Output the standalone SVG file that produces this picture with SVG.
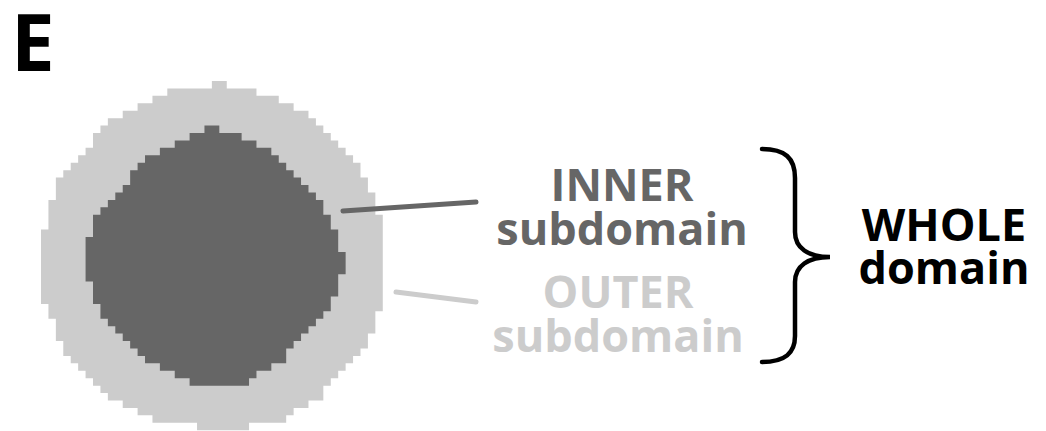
<svg xmlns="http://www.w3.org/2000/svg" width="1046" height="431" viewBox="0 0 1046 431">
  <style>
    .lbl { font-family: "Open Sans", "Liberation Sans", sans-serif; font-weight: 700; font-size: 45px; text-anchor: middle; }
    .dark { fill: #666666; }
    .light { fill: #cccccc; }
    .black { fill: #000000; }
    .conn { fill: none; stroke-width: 5; stroke-linecap: round; }
  </style>
  <rect width="1046" height="431" fill="#ffffff"/>
  <g id="panel-label">
    <text x="11" y="71" font-family="'Open Sans', 'Liberation Sans', sans-serif" font-weight="700" font-size="78" fill="#000">E</text>
  </g>
  <g id="domain" transform="translate(41,81) scale(7.43)">
    <g id="outer-subdomain">
      <path class="light" d="M23,0 H25 V1 H29 V2 H32 V3 H34 V4 H36 V5 H37 V6 H38 V7 H39 V8 H40 V9 H41 V10 H42 V11 H43 V13 H44 V15 H45 V18 H46 V31 H45 V34 H44 V36 H43 V37 H42 V38 H41 V39 H40 V40 H39 V41 H38 V43 H36 V44 H34 V45 H33 V46 H28 V47 H21 V46 H15 V45 H13 V44 H11 V43 H9 V42 H8 V41 H7 V40 H6 V39 H5 V38 H4 V37 H3 V35 H2 V32 H1 V30 H0 V20 H1 V16 H2 V13 H3 V12 H4 V11 H5 V10 H6 V9 H7 V7 H8 V6 H9 V5 H11 V4 H13 V3 H15 V2 H17 V1 H23 Z"/>
    </g>
    <g id="inner-subdomain">
      <path class="dark" d="M22,6 H24 V7 H27 V8 H29 V9 H31 V10 H32 V11 H33 V12 H34 V13 H35 V14 H36 V15 H37 V16 H38 V18 H39 V20 H40 V23 H41 V26 H40 V29 H39 V31 H38 V32 H37 V33 H36 V34 H35 V35 H34 V36 H33 V38 H31 V39 H29 V40 H28 V41 H20 V40 H18 V39 H16 V38 H14 V37 H13 V36 H12 V35 H11 V34 H10 V33 H9 V32 H8 V30 H7 V27 H6 V21 H7 V18 H8 V17 H9 V16 H10 V15 H11 V14 H12 V12 H13 V11 H14 V10 H16 V9 H18 V8 H20 V7 H22 Z"/>
    </g>
  </g>
  <g id="connectors">
    <line class="conn" x1="343" y1="211" x2="476" y2="202" stroke="#666666"/>
    <line class="conn" x1="396" y1="292" x2="476" y2="302" stroke="#cccccc"/>
    <path id="brace" d="M762,149 C785,149 795,158 795,178 V232 C795,248 808,257 830,257 C808,257 795,266 795,282 V336 C795,353 785,362 762,362" fill="none" stroke="#000" stroke-width="4.5" stroke-linecap="round"/>
  </g>
  <g id="label-inner">
    <text class="lbl dark" x="622" y="201">INNER</text>
    <text class="lbl dark" x="622" y="245">subdomain</text>
  </g>
  <g id="label-outer">
    <text class="lbl light" x="618" y="308">OUTER</text>
    <text class="lbl light" x="618" y="352">subdomain</text>
  </g>
  <g id="label-whole">
    <text class="lbl black" x="944" y="241">WHOLE</text>
    <text class="lbl black" x="944" y="284">domain</text>
  </g>
</svg>
